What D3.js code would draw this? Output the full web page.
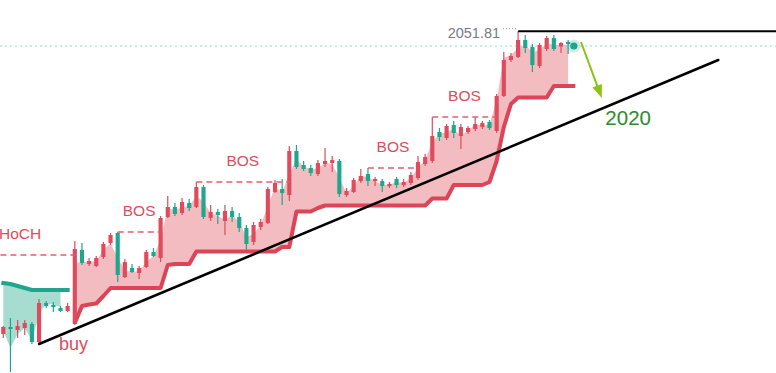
<!DOCTYPE html>
<html><head><meta charset="utf-8">
<script src="https://cdn.jsdelivr.net/npm/d3@7/dist/d3.min.js"></script>
<style>html,body{margin:0;padding:0;background:#fff;overflow:hidden}</style>
</head><body><svg id="c" width="776" height="373"></svg>
<script>
// ---- data (prices) ----
const opens  = [1749,1756,1753,1755,1759,1741,1780,1778,1775,1772,
                1759,1833,1819,1817,1826,1840,1850,1806,1815,1810,
                1816,1831,1825,1866,1876,1870,1880,1876,1896,1865,
                1871,1862,1872,1866,1855,1841,1856,1860,1891,1894,
                1888,1932,1918,1915,1909,1919,1920,1922,1888,1891,
                1902,1909,1902,1902,1897,1904,1898,1900,1905,1919,
                1922,1951,1945,1958,1947,1951,1954,1956,1961,1952,
                1987,2023,2026,2043,2036,2017,2034,2045,2036.5,2041,2038];
const highs  = [1757,1765,1763,1763,1761,1784,1782,1781,1777,1780,
                1842,1840,1825,1827,1841,1850,1851,1824,1819,1817,
                1833,1835,1867,1887,1880,1885,1884,1901,1898,1878,
                1874,1878,1876,1870,1858,1861,1864,1896,1903,1904,
                1937,1938,1922,1918,1923,1935,1927,1924,1895,1905,
                1914,1915,1906,1904,1901,1906,1904,1911,1927,1929,
                1966,1955,1959,1962,1959,1957,1966,1962,1963,1989,
                2031,2030,2051.81,2048,2039,2040,2047,2048,2041,2043,2039];
const lows   = [1745,1711,1745,1748,1739,1740,1775,1771,1771,1771,
                1758,1818,1817,1816,1824,1838,1801,1805,1810,1804,
                1815,1826,1821,1865,1867,1868,1872,1875,1864,1862,
                1859,1848,1861,1851,1833,1838,1853,1859,1890,1878,
                1882,1914,1912,1907,1907,1916,1911,1886,1886,1890,
                1900,1897,1897,1891,1895,1895,1896,1898,1903,1917,
                1920,1942,1943,1945,1934,1949,1952,1954,1953,1950,
                1986,2021,2025,2030,2011,2015,2032,2032,2030,2029,2036];
const closes = [1756,1754,1757,1760,1741,1780,1777,1776,1772,1777,
                1834,1820,1822,1825,1839,1848,1808,1821,1811,1815,
                1831,1827,1865,1876,1869,1881,1875,1896,1866,1871,
                1868,1872,1866,1855,1839,1858,1861,1894,1900,1890,
                1932,1916,1914,1910,1920,1922,1923,1889,1892,1903,
                1907,1902,1904,1897,1899,1898,1901,1908,1921,1926,
                1947,1946,1957,1950,1956,1955,1959,1960,1955,1987,
                2023,2027,2043,2035,2018,2038,2045,2034,2040,2039,2037];

// trailing stop (bearish, candles 0..9) and (bullish, candles 10..80)
const bearStop = [1800,1799,1797,1795,1793,1793,1793,1793,1793,1793];
const bullStop = [1760,1777,1778.5,1779.5,1787,
                  1795,1795,1795,1795,1795,1795,1795,1795,
                  1818,1819,1819,1819,
                  1831.5,1831.5,1831.5,1831.5,1831.5,1831.5,1831.5,1831.5,1831.5,1831.5,1831.5,1831.5,
                  1836,1836,
                  1871.5,1871.5,1871.5,1875,
                  1877.5,1877.5,1877.5,1877.5,1877.5,1877.5,1877.5,1877.5,1877.5,1877.5,1877.5,1877.5,1877.5,1877.5,1877.5,
                  1884.5,1884.5,1884.5,
                  1898,1898,1898,1898,1898,
                  1901,1922,1956,1979,
                  1985.5,1985.5,1985.5,1985.5,1985.5,
                  1997,1997,1997,1997];
// price edge of the shaded zones
const bearEdge = [1752,1735,1749,1755,1743,1768,1780,1778,1776];
const bullEdge = [1820,1821,1821,1822,1833,1840,1825,1813,1811,1812,
                  1821,1827,1843,1875,1873,1876,1877,1887,1881,1870,
                  1867,1863,1868,1861,1846,1849,1858,1877,1896,1891,
                  1909,1923,1917,1913,1915,1920,1919,1905,1890,1897,
                  1907,1906,1902,1898,1898,1901,1900,1905,1915,1923,
                  1941,1949,1951,1954,1947,1953,1958,1958,1958,1983,
                  2025,2028,2035,2038,2031,2033,2040,2038,2038,2038];

const bosLabels = ["HoCH","BOS","BOS","BOS","BOS"];
const bosFrom   = [-6,16,27,51,60];
const bosTo     = [10,22,40,58,69];
const bosPrice  = [1828,1851,1901,1915,1966];

const trendFrom = [5,1739], trendTo = [100,2023];
const highIdx = 72, highPrice = 2051.81;
const lastPrice = closes[closes.length-1];
const arrowFrom = [80.8,2041], arrowTo = [83.7,1985];
const buyPos = [7.8,1733], yearPos = [84.2,1958];

// ---- scales ----
const W=776,H=373;
const x = d3.scaleLinear().domain([0,80]).range([3.3,575.3]);
const y = d3.scaleLinear().domain([1710,2083]).range([373,0]);
const svg = d3.select("#c");
const RED="#df4b5c", TEAL="#1fa68d", FONT="'Liberation Sans', Arial, sans-serif";

// shaded zones
const bearData = bearEdge.map((v,i)=>({i, e:v, s:bearStop[i]}));
const bullData = bullEdge.map((v,k)=>({i:k+10, e:v, s:bullStop[k]}));
const area = d3.area().x(d=>x(d.i)).y0(d=>y(d.s)).y1(d=>y(d.e));
svg.append("path").attr("d",area(bearData)).attr("fill","#a6ddd0");
svg.append("path").attr("d",area(bullData)).attr("fill","#f3bcc1");

// last price dotted line
svg.append("line").attr("x1",0).attr("x2",W).attr("y1",y(lastPrice)).attr("y2",y(lastPrice))
  .attr("stroke","#8fd8c6").attr("stroke-width",1).attr("stroke-dasharray","2,3");

// stop lines
const line = d3.line().x(d=>x(d.i)).y(d=>y(d.v));
svg.append("path").attr("d",line(bearStop.map((v,i)=>({i,v}))))
  .attr("fill","none").attr("stroke",TEAL).attr("stroke-width",4).attr("stroke-linejoin","round").attr("stroke-linecap","square");
svg.append("path").attr("d",line(bullStop.map((v,k)=>({i:k+10,v}))))
  .attr("fill","none").attr("stroke","#dc4557").attr("stroke-width",4).attr("stroke-linejoin","round");

// candles
const bw = (x(1)-x(0))*0.58;
const g = svg.append("g");
closes.forEach((c,i)=>{
  const o=opens[i], up=c>=o, col=up?RED:TEAL;
  g.append("line").attr("x1",x(i)).attr("x2",x(i)).attr("y1",y(highs[i])).attr("y2",y(lows[i]))
    .attr("stroke",col).attr("stroke-width",1.2);
  const top=y(Math.max(o,c)), bot=y(Math.min(o,c));
  g.append("rect").attr("x",x(i)-bw/2).attr("y",top).attr("width",bw).attr("height",Math.max(1.2,bot-top)).attr("fill",col);
});

// trend line
svg.append("line").attr("x1",x(trendFrom[0])).attr("y1",y(trendFrom[1]))
  .attr("x2",x(trendTo[0])).attr("y2",y(trendTo[1]))
  .attr("stroke","#000").attr("stroke-width",2.5).attr("stroke-linecap","round");

// high line + label
svg.append("line").attr("x1",x(highIdx)).attr("x2",W).attr("y1",y(highPrice)).attr("y2",y(highPrice))
  .attr("stroke","#000").attr("stroke-width",2);
svg.append("line").attr("x1",x(highIdx)-15).attr("x2",x(highIdx)-1).attr("y1",y(highPrice)-2.5).attr("y2",y(highPrice)-2.5)
  .attr("stroke","#8a8d96").attr("stroke-width",1).attr("stroke-dasharray","1,2");
svg.append("text").attr("x",x(highIdx)-18).attr("y",y(highPrice)+6.5).attr("text-anchor","end")
  .attr("font-family",FONT).attr("font-size",14.5).attr("fill","#787b86").text(highPrice.toFixed(2));

// BOS / CHoCH
bosLabels.forEach((lab,k)=>{
  const x1=x(bosFrom[k]), x2=x(bosTo[k]), yy=y(bosPrice[k]);
  svg.append("line").attr("x1",x1).attr("x2",x2).attr("y1",yy).attr("y2",yy)
    .attr("stroke","#e0606f").attr("stroke-width",1.3).attr("stroke-dasharray","6,4");
  const t = svg.append("text").attr("y",yy-16.5)
    .attr("font-family",FONT).attr("font-size",15.5).attr("fill",RED).text(lab);
  if (x1 < 0) t.attr("x",-1).attr("text-anchor","start");
  else t.attr("x",(x1+x2)/2).attr("text-anchor","middle");
});

// buy label
svg.append("text").attr("x",x(buyPos[0])).attr("y",y(buyPos[1])).attr("font-family",FONT)
  .attr("font-size",18).attr("fill",RED).text("buy");

// last price dot
const lx=x(closes.length-1), ly=y(lastPrice);
svg.append("circle").attr("cx",lx-1.5).attr("cy",ly).attr("r",6.5).attr("fill",TEAL).attr("opacity",0.22);
svg.append("circle").attr("cx",lx-1.5).attr("cy",ly).attr("r",3.6).attr("fill",TEAL);

// arrow
const ax1=x(arrowFrom[0]), ay1=y(arrowFrom[1]), ax2=x(arrowTo[0]), ay2=y(arrowTo[1]);
const ang=Math.atan2(ay2-ay1,ax2-ax1), hl=13, hw=5;
const bx=ax2-hl*Math.cos(ang), by=ay2-hl*Math.sin(ang);
svg.append("line").attr("x1",ax1).attr("y1",ay1).attr("x2",bx).attr("y2",by)
  .attr("stroke","#8cc414").attr("stroke-width",2);
svg.append("path").attr("d",`M${ax2},${ay2}L${bx+hw*Math.sin(ang)},${by-hw*Math.cos(ang)}L${bx-hw*Math.sin(ang)},${by+hw*Math.cos(ang)}Z`)
  .attr("fill","#8cc414");

svg.append("text").attr("x",x(yearPos[0])).attr("y",y(yearPos[1])).attr("font-family",FONT)
  .attr("font-size",20.5).attr("fill","#2e8b2e").text("2020");
</script></body></html>
